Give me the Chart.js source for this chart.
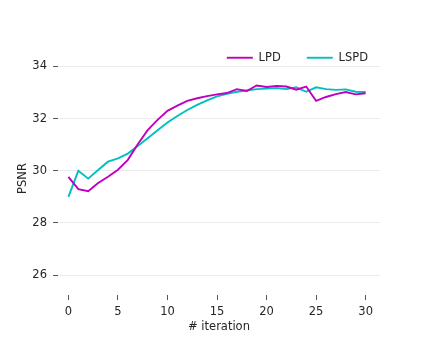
<!DOCTYPE html>
<html>
<head>
<meta charset="utf-8">
<script src="https://cdn.jsdelivr.net/npm/chart.js@4.4.1/dist/chart.umd.min.js"></script>
<style>
  html, body { margin: 0; padding: 0; background: #fff; }
  #wrap { width: 423px; height: 338px; }
</style>
</head>
<body>
<div id="wrap"><canvas id="psnrChart" width="423" height="338"></canvas></div>
<script>
// iteration index on x
const iterations = [0, 1, 2, 3, 4, 5, 6, 7, 8, 9, 10, 11, 12, 13, 14, 15,
    16, 17, 18, 19, 20, 21, 22, 23, 24, 25, 26, 27, 28, 29, 30];

// PSNR per iteration
const lpdValues = [29.77, 29.3, 29.22, 29.53, 29.77, 30.04, 30.42, 31.02, 31.56, 31.95,
    32.3, 32.5, 32.68, 32.78, 32.86, 32.93, 32.98, 33.13, 33.06, 33.27,
    33.21, 33.25, 33.23, 33.11, 33.23, 32.68, 32.83, 32.94, 33.02, 32.93, 32.97];
const lspdValues = [29.0, 30.0, 29.7, 30.03, 30.35, 30.48, 30.66, 30.95, 31.25, 31.55,
    31.85, 32.1, 32.33, 32.53, 32.7, 32.85, 32.95, 33.03, 33.08, 33.13,
    33.15, 33.17, 33.13, 33.2, 33.03, 33.2, 33.13, 33.1, 33.12, 33.03, 33.02];

const xTicks = [0, 5, 10, 15, 20, 25, 30];
const yTicks = [26, 28, 30, 32, 34];

const textColor = '#262626';
const fontFamily = '"DejaVu Sans", sans-serif';

// legend sits inside the plot in the original, so squeeze its box and shift it
const legendPlacement = {
    id: 'legendPlacement',
    beforeInit(chart) {
        const fit = chart.legend.fit;
        chart.legend.fit = function () {
            fit.call(this);
            this.height = 36;
        };
    },
    afterLayout(chart) {
        chart.legend.left += 14;
        chart.legend.right += 14;
    }
};

function toPoints(values) {
    return values.map((v, i) => ({ x: iterations[i], y: v }));
}

const ctx = document.getElementById('psnrChart').getContext('2d');
const psnrChart = new Chart(ctx, {
    type: 'line',
    data: {
        datasets: [{
            label: 'LPD',
            data: toPoints(lpdValues),
            borderColor: '#bf00bf',
            backgroundColor: '#bf00bf',
            borderWidth: 1.9,
            pointRadius: 0,
            tension: 0,
            fill: false
        }, {
            label: 'LSPD',
            data: toPoints(lspdValues),
            borderColor: '#00bfbf',
            backgroundColor: '#00bfbf',
            borderWidth: 1.9,
            pointRadius: 0,
            tension: 0,
            fill: false
        }]
    },
    options: {
        responsive: false,
        animation: false,
        layout: {
            padding: { top: 26, right: 43, bottom: 0, left: 0 }
        },
        scales: {
            x: {
                type: 'linear',
                min: -1.05,
                max: 31.45,
                afterBuildTicks: (scale) => { scale.ticks = xTicks.map(v => ({ value: v })); },
                afterFit: (scale) => { scale.height = 43; },
                border: { display: false },
                grid: {
                    drawOnChartArea: false,
                    drawTicks: true,
                    tickLength: 5,
                    tickColor: '#555'
                },
                ticks: {
                    color: textColor,
                    font: { family: fontFamily, size: 11.5 },
                    padding: 5,
                    maxRotation: 0
                },
                title: {
                    display: true,
                    text: '# iteration',
                    color: textColor,
                    font: { family: fontFamily, size: 11.5 },
                    padding: { top: 0, bottom: 4 }
                }
            },
            y: {
                min: 25.24,
                max: 34.17,
                afterBuildTicks: (scale) => { scale.ticks = yTicks.map(v => ({ value: v })); },
                afterFit: (scale) => { scale.width = 58; },
                border: { display: false },
                grid: {
                    color: '#ebebeb',
                    lineWidth: 1,
                    drawTicks: true,
                    tickLength: 5,
                    tickColor: '#555'
                },
                ticks: {
                    color: textColor,
                    font: { family: fontFamily, size: 11.5 },
                    padding: 6
                },
                title: {
                    display: true,
                    text: 'PSNR',
                    color: textColor,
                    font: { family: fontFamily, size: 11.5 },
                    padding: { top: 16, bottom: 0 }
                }
            }
        },
        plugins: {
            legend: {
                display: true,
                position: 'top',
                align: 'end',
                labels: {
                    color: textColor,
                    font: { family: fontFamily, size: 11.5 },
                    usePointStyle: true,
                    pointStyle: 'line',
                    pointStyleWidth: 26,
                    padding: 26
                }
            },
            tooltip: { enabled: false }
        }
    },
    plugins: [legendPlacement]
});
</script>
</body>
</html>
